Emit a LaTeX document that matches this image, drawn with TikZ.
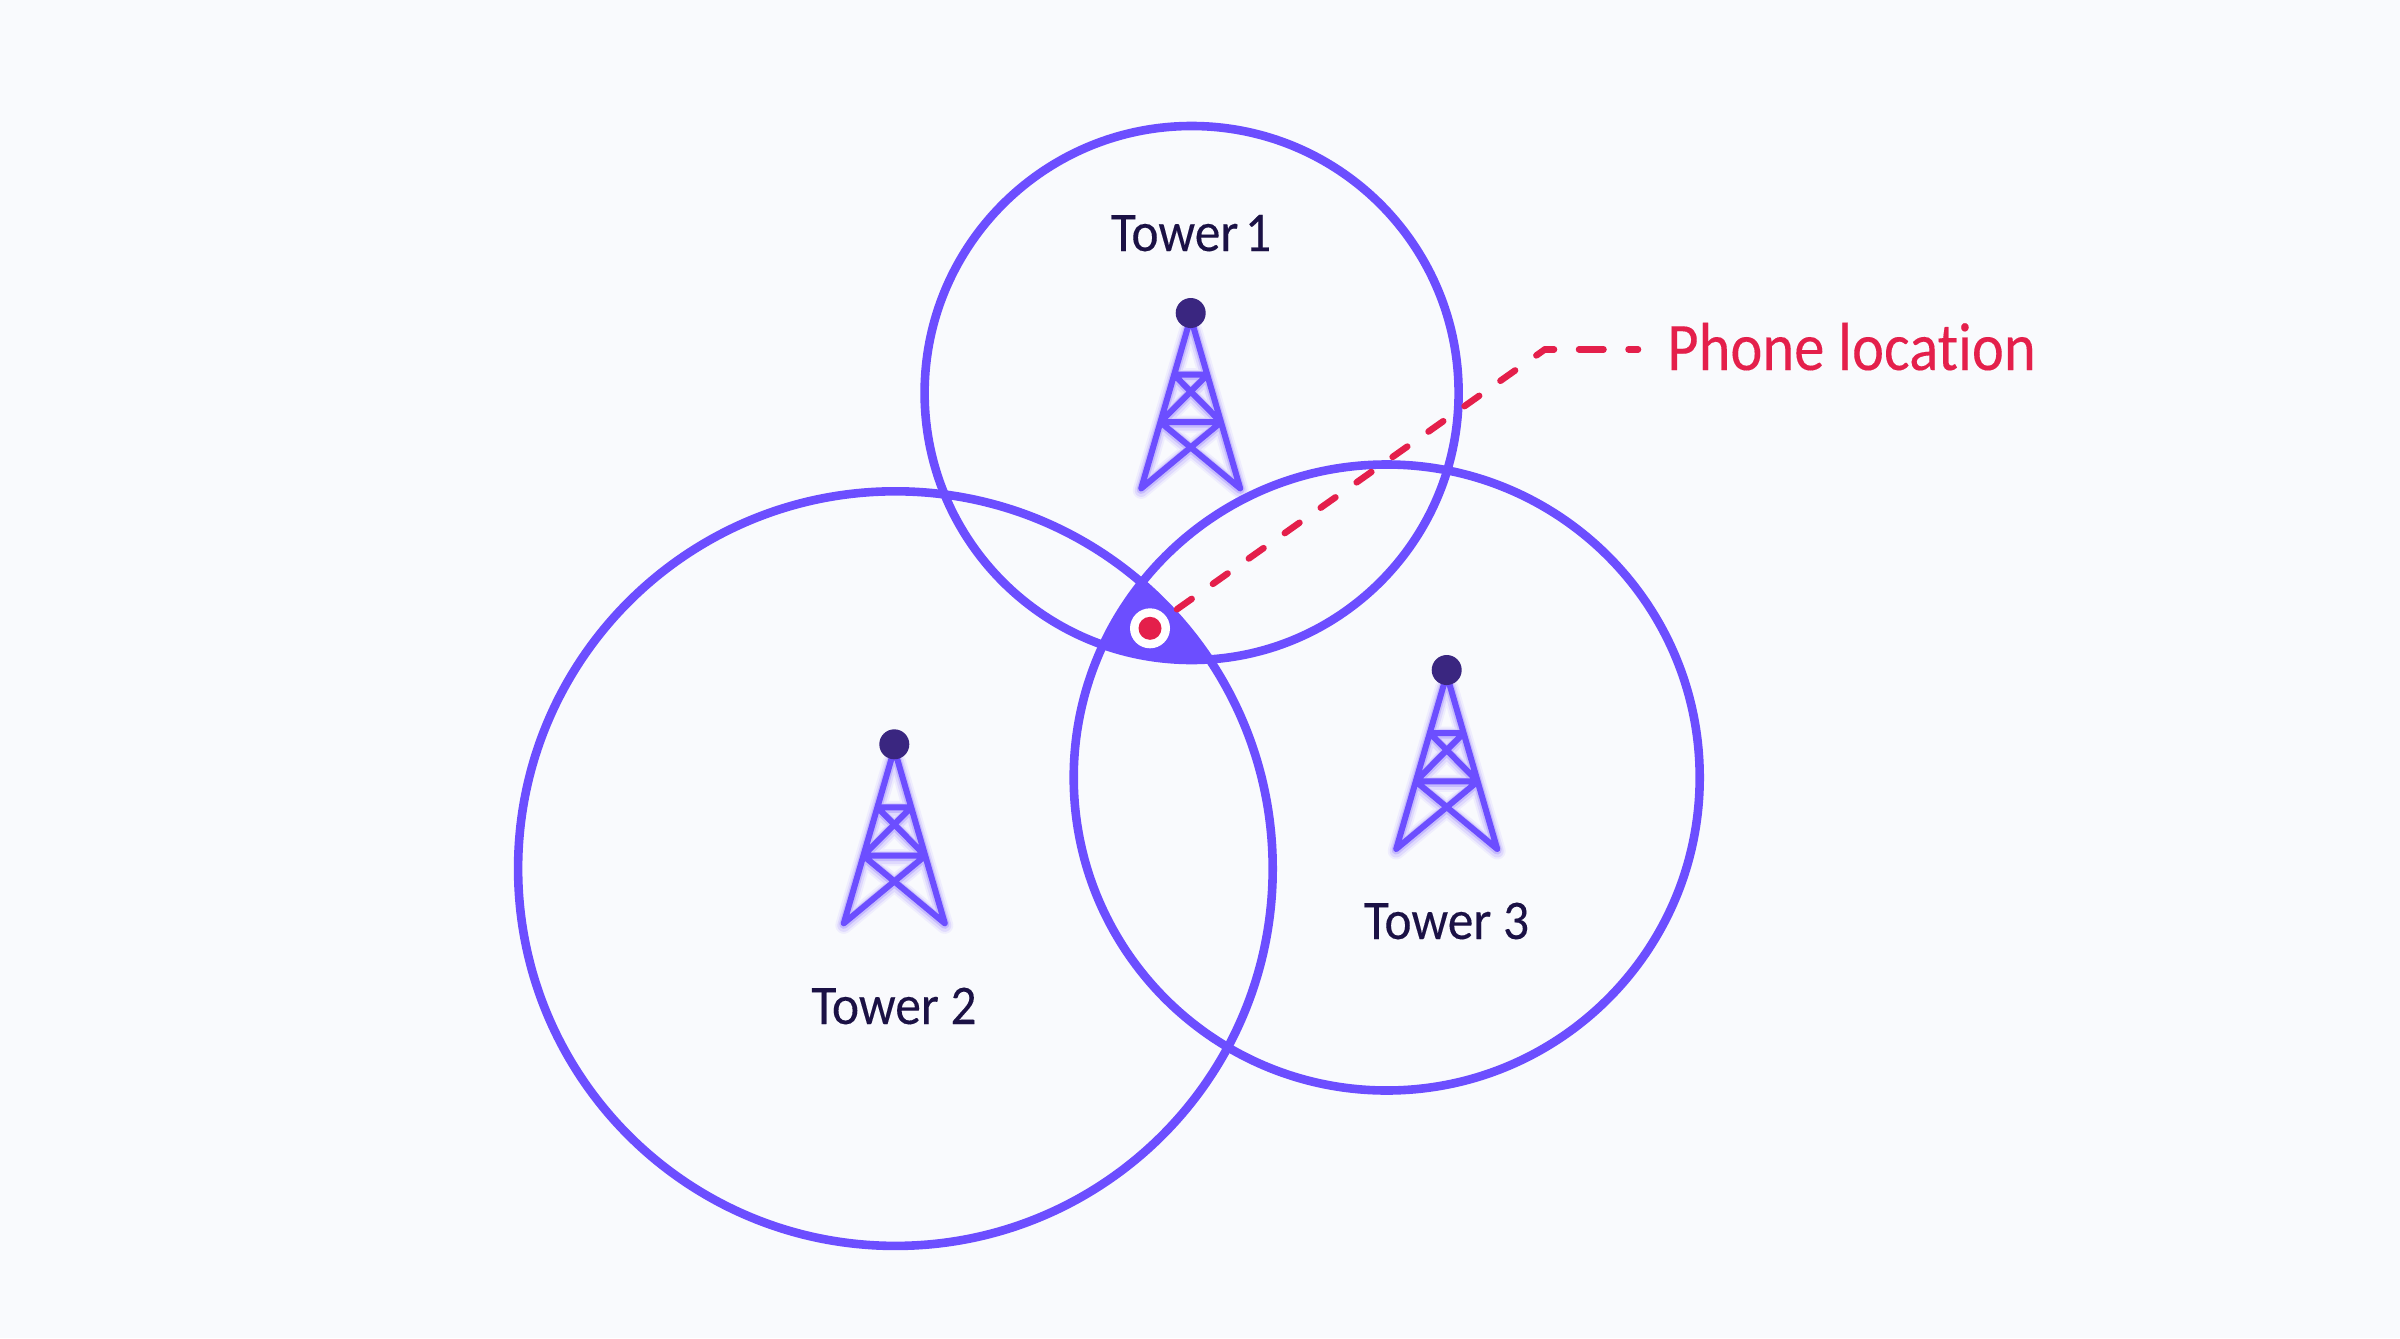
\documentclass[tikz,border=0pt]{standalone}
\usepackage{fontspec}
\setmainfont{Carlito}
\newfontfamily\towerfont[FakeStretch=0.92,Ligatures=NoCommon,FakeBold=0.15]{Carlito}
\newfontfamily\phonefont[FakeStretch=0.892,Ligatures=NoCommon,FakeBold=0.15]{Carlito}
\definecolor{bgc}{HTML}{F9FAFD}
\definecolor{violetc}{HTML}{6C4EFF}
\definecolor{darkc}{HTML}{3A2680}
\definecolor{redc}{HTML}{E41F4B}
\definecolor{inkc}{HTML}{1B1145}
\tikzset{
  ringline/.style={draw=violetc,line width=8.6pt},
  towerleg/.style={line cap=round,line join=round},
  towershape/.pic={
    \foreach \w/\o/\d in {17/.07/2,13/.12/2,9/.22/1,6/1/0}{
      \draw[towerleg,draw=violetc,line width=\w pt,opacity=\o,yshift=-\d pt]
        (-50.5,179) -- (-3,15) (50.5,179) -- (3,15)
        (-17,63) -- (17,63) (-31,111.4) -- (31,111.4)
        (-17,63) -- (31,111.4) (17,63) -- (-31,111.4)
        (-31,111.4) -- (50.5,179) (31,111.4) -- (-50.5,179);
    }
  },
  topdot/.style={circle,fill=darkc,minimum size=30pt,inner sep=0pt,draw=none},
  towerlabel/.style={text=inkc,font=\towerfont\fontsize{56}{60}\selectfont,anchor=base,inner sep=0pt},
  phonering/.style={circle,fill=white,minimum size=40pt,inner sep=0pt},
  phonedot/.style={circle,fill=redc,minimum size=23pt,inner sep=0pt},
  phonelabel/.style={text=redc,font=\phonefont\fontsize{68}{72}\selectfont,anchor=base west,inner sep=0pt},
  leader/.style={draw=redc,line width=6.5pt,line cap=round},
  leaderdiag/.style={leader,dash pattern=on 18pt off 26pt},
  leaderflat/.style={leader,dash pattern=on 24.5pt off 25pt,dash phase=15.5pt}
}
\begin{document}
\begin{tikzpicture}[x=1pt,y=-1pt]
\useasboundingbox (0,0) rectangle (2400,1338);
\fill[bgc] (0,0) rectangle (2400,1338);
% trilateration overlap
\begin{scope}
  \clip (1191.6,393) circle (267);
  \clip (895.4,868.6) circle (377.3);
  \clip (1386.7,777.5) circle (313);
  \fill[violetc] (1000,500) rectangle (1300,700);
\end{scope}
% coverage circles
\draw[ringline] (1191.6,393) circle (267);
\draw[ringline] (895.4,868.6) circle (377.3);
\draw[ringline] (1386.7,777.5) circle (313);
% towers
\pic[scale=.98] at (1190.7,313) {towershape};
\pic at (894.3,744.3) {towershape};
\pic at (1446.7,670) {towershape};
\node[topdot] (top1) at (1190.7,313) {};
\node[topdot] (top2) at (894.3,744.3) {};
\node[topdot] (top3) at (1446.7,670) {};
\node[towerlabel] (t1) at (1191,251) {Tower \kern-5pt 1};
\node[towerlabel] (t2) at (894,1024) {Tower 2};
\node[towerlabel] (t3) at (1446.5,939) {Tower 3};
% phone
\node[phonering] (ring) at (1150,628.3) {};
\node[phonedot] (phone) at (1150,628.3) {};
\node[phonelabel] (plabel) at (1667,370) {Phone location};
\coordinate (bend) at (1545,349.3);
\draw[leaderdiag,shorten <=33pt] (phone.center) -- (bend);
\draw[leaderflat,shorten >=29pt] (bend) -- (plabel.west |- bend);
\end{tikzpicture}
\end{document}
